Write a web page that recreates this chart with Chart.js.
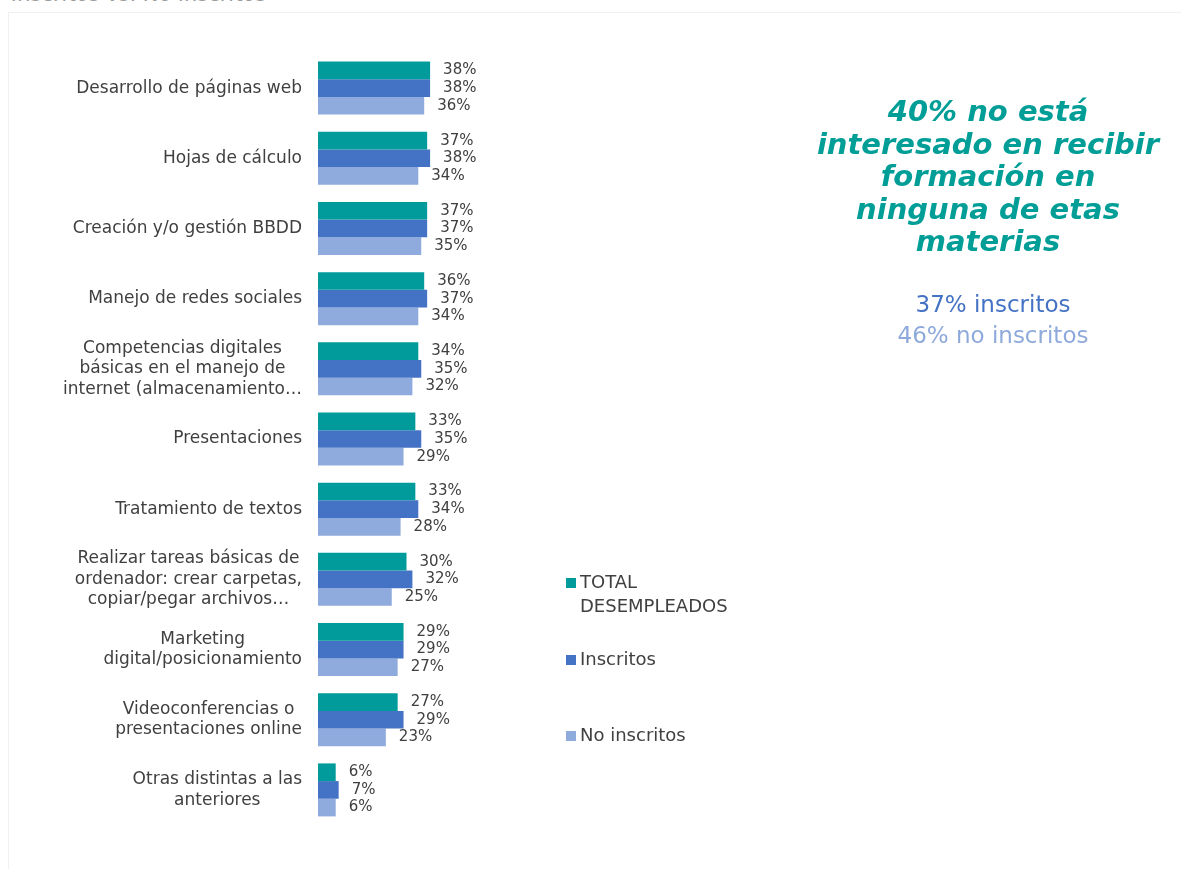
<!DOCTYPE html>
<html>
<head>
<meta charset="utf-8">
<script src="https://cdn.jsdelivr.net/npm/chart.js@4/dist/chart.umd.min.js"></script>
<style>
  html, body { margin: 0; padding: 0; background: #fff; width: 1181px; height: 869px; overflow: hidden; }
  #wrap { position: relative; width: 1181px; height: 869px; overflow: hidden; }
  #card { position: absolute; left: 8px; top: 12px; right: 0; bottom: 0; border-top: 1px solid #f1f1f1; border-left: 1px solid #f1f1f1; }
  #title { position: absolute; left: 12px; top: -18px; font: italic 21px/24px "DejaVu Sans", sans-serif; color: #9a9a9a; white-space: nowrap; }
  canvas { position: absolute; left: 0; top: 0; }
  #note { position: absolute; left: 788px; width: 400px; top: 95px; text-align: center; font: bold italic 29px/32.5px "DejaVu Sans", sans-serif; color: #009E96; }
  #sub1 { position: absolute; left: 793px; width: 400px; top: 291px; text-align: center; font: 23px "DejaVu Sans", sans-serif; color: #4472C4; }
  #sub2 { position: absolute; left: 793px; width: 400px; top: 322px; text-align: center; font: 23px "DejaVu Sans", sans-serif; color: #8EA9DB; }
</style>
</head>
<body>
<div id="wrap">
  <div id="title">Inscritos vs. No inscritos</div>
  <div id="card"></div>
  <canvas id="c" width="1181" height="869"></canvas>
  <div id="note">40% no está<br>interesado en recibir<br>formación en<br>ninguna de etas<br>materias</div>
  <div id="sub1">37% inscritos</div>
  <div id="sub2">46% no inscritos</div>
</div>
<script>
const categories = [
  ["Desarrollo de páginas web"],
  ["Hojas de cálculo"],
  ["Creación y/o gestión BBDD"],
  ["Manejo de redes sociales"],
  ["Competencias digitales", "básicas en el manejo de", "internet (almacenamiento…"],
  ["Presentaciones"],
  ["Tratamiento de textos"],
  ["Realizar tareas básicas de", "ordenador: crear carpetas,", "copiar/pegar archivos…"],
  ["Marketing", "digital/posicionamiento"],
  ["Videoconferencias o", "presentaciones online"],
  ["Otras distintas a las", "anteriores"]
];
const seriesNames = [["TOTAL", "DESEMPLEADOS"], ["Inscritos"], ["No inscritos"]];
const totalDesempleados = [38, 37, 37, 36, 34, 33, 33, 30, 29, 27, 6];
const inscritos = [38, 38, 37, 37, 35, 35, 34, 32, 29, 29, 7];
const noInscritos = [36, 34, 35, 34, 32, 29, 28, 25, 27, 23, 6];

const colors = ["#009B9A", "#4472C4", "#8FAADC"];
const FONT = '"DejaVu Sans", sans-serif';
const TEXT = "#404040";

const catLabelPlugin = {
  id: "catLabels",
  afterDraw(chart) {
    const ctx = chart.ctx, ys = chart.scales.y;
    ctx.save();
    ctx.font = "17px " + FONT;
    ctx.fillStyle = TEXT;
    ctx.textAlign = "center";
    ctx.textBaseline = "middle";
    const lh = 20.5;
    const right = chart.chartArea.left - 16;
    categories.forEach((lines, i) => {
      const y = ys.getPixelForValue(i);
      const w = Math.max(...lines.map(l => ctx.measureText(l).width));
      const cx = Math.max(right - w / 2, 12 + w / 2);
      lines.forEach((l, j) => {
        ctx.fillText(l, cx, y + (j - (lines.length - 1) / 2) * lh);
      });
    });
    ctx.restore();
  }
};

const valueLabelPlugin = {
  id: "valueLabels",
  afterDatasetsDraw(chart) {
    const ctx = chart.ctx;
    ctx.save();
    ctx.font = "15px " + FONT;
    ctx.fillStyle = TEXT;
    ctx.textAlign = "left";
    ctx.textBaseline = "middle";
    chart.data.datasets.forEach((ds, di) => {
      chart.getDatasetMeta(di).data.forEach((el, i) => {
        ctx.fillText(ds.data[i] + "%", el.x + 13, el.y);
      });
    });
    ctx.restore();
  }
};

const legendPlugin = {
  id: "sideLegend",
  afterDraw(chart) {
    const ctx = chart.ctx;
    ctx.save();
    ctx.font = "18px " + FONT;
    ctx.textAlign = "left";
    ctx.textBaseline = "middle";
    const rows = [583, 660, 736];
    chart.data.datasets.forEach((ds, di) => {
      const y = rows[di];
      ctx.fillStyle = ds.backgroundColor;
      ctx.fillRect(566, y - 5, 10, 10);
      ctx.fillStyle = TEXT;
      seriesNames[di].forEach((l, j) => ctx.fillText(l, 580, y + j * 24));
    });
    ctx.restore();
  }
};

new Chart(document.getElementById("c"), {
  type: "bar",
  data: {
    labels: categories.map(c => c.join(" ")),
    datasets: [
      { label: "TOTAL DESEMPLEADOS", data: totalDesempleados, backgroundColor: colors[0] },
      { label: "Inscritos", data: inscritos, backgroundColor: colors[1] },
      { label: "No inscritos", data: noInscritos, backgroundColor: colors[2] }
    ]
  },
  options: {
    indexAxis: "y",
    responsive: false,
    animation: false,
    devicePixelRatio: 1,
    datasets: { bar: { barPercentage: 1, categoryPercentage: 0.755 } },
    layout: { padding: { left: 318, right: 568, top: 53, bottom: 44 } },
    scales: {
      x: { display: false, min: 0, max: 100 },
      y: { display: false }
    },
    plugins: { legend: { display: false }, tooltip: { enabled: false } }
  },
  plugins: [catLabelPlugin, valueLabelPlugin, legendPlugin]
});
</script>
</body>
</html>
